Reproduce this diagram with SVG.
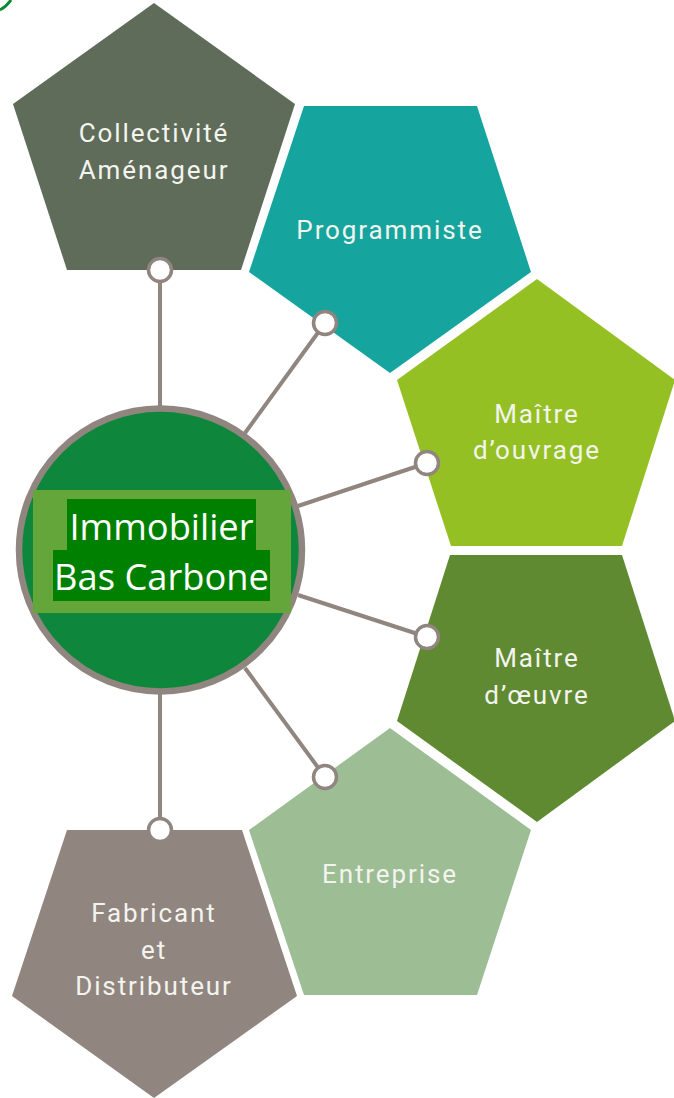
<svg xmlns="http://www.w3.org/2000/svg" width="674" height="1098" viewBox="0 0 674 1098">
<style>
.l{font-family:Roboto,"Noto Sans",sans-serif;font-size:26px;fill:#f4f4ef;text-anchor:middle;font-weight:400;letter-spacing:1.9px}
.c{stroke:#90857f;stroke-width:4;fill:none}
.d{fill:#fff;stroke:#90857f;stroke-width:3.5}
.m{font-family:"Open Sans","Noto Sans",sans-serif;font-size:36.3px;fill:#fff;text-anchor:middle}
</style>
<rect width="674" height="1098" fill="#fff"/>
<path d="M0 10Q6 7 11 0" stroke="#0a8a35" stroke-width="3" fill="none"/>
<g id="connectors">
<path class="c" d="M160 270V410M325 323L245 433M427 463L298 506M427 637L298 595M325 777L245 668M160 830V692"/>
</g>
<g id="n1"><polygon points="154,3 295,104 241,270 67,270 13,104" fill="#5e6c59"/><text class="l" x="154" y="142">Collectivité</text><text class="l" x="154" y="179">Aménageur</text></g>
<g id="n2"><polygon points="304,106 477,106 531,272 390,373 249,272" fill="#15a59e"/><text class="l" x="390" y="239">Programmiste</text></g>
<g id="n3"><polygon points="537,279 675,380 622,546 451,546 397,380" fill="#95c024"/><text class="l" x="537" y="423">Maître</text><text class="l" x="537" y="459">d’ouvrage</text></g>
<g id="n4"><polygon points="450,555 622,555 675,721 537,822 397,721" fill="#5f8a32"/><text class="l" x="537" y="667">Maître</text><text class="l" x="537" y="704">d’œuvre</text></g>
<g id="n5"><polygon points="390,728 531,830 477,995 304,995 249,830" fill="#9dbd95"/><text class="l" x="390" y="883">Entreprise</text></g>
<g id="n6"><polygon points="67,830 242,830 297,996 154,1098 12,996" fill="#90857f"/><text class="l" x="154" y="922">Fabricant</text><text class="l" x="154" y="959">et</text><text class="l" x="154" y="995">Distributeur</text></g>
<g id="dots">
<circle class="d" cx="160" cy="270" r="11.5"/><circle class="d" cx="325" cy="323" r="11.5"/><circle class="d" cx="427" cy="463" r="11.5"/><circle class="d" cx="427" cy="637" r="11.5"/><circle class="d" cx="325" cy="777" r="11.5"/><circle class="d" cx="160" cy="830" r="11.5"/>
</g>
<g id="center">
<circle cx="160.5" cy="550" r="141.5" fill="#0e873c" stroke="#90857f" stroke-width="6.5"/>
<rect x="33" y="490" width="258" height="123" fill="#65a63a"/>
<rect x="67" y="499" width="189" height="51" fill="#008000"/>
<rect x="53" y="550" width="217" height="51" fill="#008000"/>
<text class="m" x="161.5" y="540">Immobilier</text>
<text class="m" x="161.5" y="590">Bas Carbone</text>
</g>
</svg>
